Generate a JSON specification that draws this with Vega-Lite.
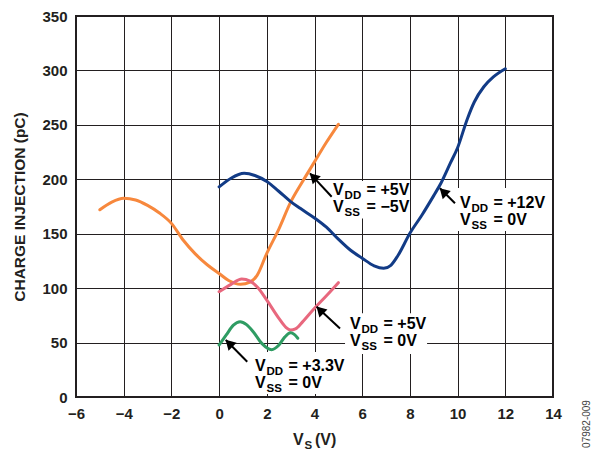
{
  "$schema": "https://vega.github.io/schema/vega-lite/v6.json",
  "width": 477,
  "height": 381,
  "autosize": "none",
  "padding": {"left": 76, "top": 16, "right": 48, "bottom": 58},
  "background": "white",
  "config": {
    "view": {"stroke": "#231f20", "strokeWidth": 2},
    "font": "Liberation Sans",
    "axis": {
      "grid": true, "gridColor": "#231f20", "gridWidth": 1, "gridOpacity": 1,
      "domain": false, "ticks": false,
      "labelFont": "Liberation Sans", "labelFontSize": 15, "labelFontWeight": "bold", "labelColor": "#231f20",
      "titleFont": "Liberation Sans", "titleFontSize": 15.5, "titleFontWeight": "bold", "titleColor": "#231f20"
    }
  },
  "datasets": {
    "curves": [
      {"series": "A", "vs": -5, "q": 172}, {"series": "A", "vs": -4.5, "q": 179}, {"series": "A", "vs": -4, "q": 182.5},
      {"series": "A", "vs": -3.5, "q": 181}, {"series": "A", "vs": -3, "q": 176}, {"series": "A", "vs": -2.5, "q": 169},
      {"series": "A", "vs": -2, "q": 159.5}, {"series": "A", "vs": -1.5, "q": 144}, {"series": "A", "vs": -1, "q": 131.5},
      {"series": "A", "vs": -0.5, "q": 121.5}, {"series": "A", "vs": 0, "q": 113.5}, {"series": "A", "vs": 0.4, "q": 107},
      {"series": "A", "vs": 0.9, "q": 103.5}, {"series": "A", "vs": 1.3, "q": 105.5}, {"series": "A", "vs": 1.6, "q": 112},
      {"series": "A", "vs": 2, "q": 132}, {"series": "A", "vs": 2.5, "q": 154}, {"series": "A", "vs": 3, "q": 179},
      {"series": "A", "vs": 3.5, "q": 198}, {"series": "A", "vs": 4, "q": 216}, {"series": "A", "vs": 4.5, "q": 234},
      {"series": "A", "vs": 5, "q": 250.5},

      {"series": "B", "vs": 0, "q": 193}, {"series": "B", "vs": 0.5, "q": 201}, {"series": "B", "vs": 1.05, "q": 205.5},
      {"series": "B", "vs": 1.5, "q": 203.5}, {"series": "B", "vs": 2, "q": 198}, {"series": "B", "vs": 2.5, "q": 189},
      {"series": "B", "vs": 3, "q": 179.5}, {"series": "B", "vs": 3.4, "q": 173.3}, {"series": "B", "vs": 4, "q": 164.5},
      {"series": "B", "vs": 4.5, "q": 156}, {"series": "B", "vs": 5, "q": 145}, {"series": "B", "vs": 5.5, "q": 135},
      {"series": "B", "vs": 6, "q": 127.5}, {"series": "B", "vs": 6.5, "q": 120.5}, {"series": "B", "vs": 6.9, "q": 118.2},
      {"series": "B", "vs": 7.2, "q": 121}, {"series": "B", "vs": 7.5, "q": 130}, {"series": "B", "vs": 8, "q": 150.4},
      {"series": "B", "vs": 8.5, "q": 167}, {"series": "B", "vs": 9, "q": 185}, {"series": "B", "vs": 9.3, "q": 196.3},
      {"series": "B", "vs": 9.7, "q": 215}, {"series": "B", "vs": 10, "q": 229}, {"series": "B", "vs": 10.4, "q": 255},
      {"series": "B", "vs": 10.7, "q": 271}, {"series": "B", "vs": 11.1, "q": 285}, {"series": "B", "vs": 11.5, "q": 294},
      {"series": "B", "vs": 12, "q": 301.5},

      {"series": "C", "vs": 0, "q": 96.7}, {"series": "C", "vs": 0.5, "q": 103.5}, {"series": "C", "vs": 0.95, "q": 108.5},
      {"series": "C", "vs": 1.3, "q": 106.5}, {"series": "C", "vs": 1.6, "q": 101}, {"series": "C", "vs": 2, "q": 89},
      {"series": "C", "vs": 2.5, "q": 72.5}, {"series": "C", "vs": 2.8, "q": 64}, {"series": "C", "vs": 3, "q": 61.5},
      {"series": "C", "vs": 3.2, "q": 62.5}, {"series": "C", "vs": 3.5, "q": 69}, {"series": "C", "vs": 4, "q": 81.5},
      {"series": "C", "vs": 4.5, "q": 93}, {"series": "C", "vs": 5, "q": 105},

      {"series": "D", "vs": 0, "q": 47.8}, {"series": "D", "vs": 0.3, "q": 57}, {"series": "D", "vs": 0.6, "q": 66},
      {"series": "D", "vs": 0.88, "q": 69.2}, {"series": "D", "vs": 1.15, "q": 66.5}, {"series": "D", "vs": 1.43, "q": 60},
      {"series": "D", "vs": 1.8, "q": 49}, {"series": "D", "vs": 2.2, "q": 43.5}, {"series": "D", "vs": 2.5, "q": 47.5},
      {"series": "D", "vs": 2.75, "q": 55}, {"series": "D", "vs": 3, "q": 59}, {"series": "D", "vs": 3.15, "q": 57.5},
      {"series": "D", "vs": 3.3, "q": 54}
    ],
    "boxes": [
      {"x1": 4.65, "x2": 8.0, "y1": 164, "y2": 198.5},
      {"x1": 9.85, "x2": 13.85, "y1": 152.5, "y2": 192},
      {"x1": 5.28, "x2": 8.72, "y1": 39.5, "y2": 77},
      {"x1": 1.3, "x2": 5.3, "y1": 2.8, "y2": 41.3}
    ],
    "arrows": [
      {"tx": 4.72, "ty": 184, "hx": 3.81, "hy": 205.4},
      {"tx": 9.89, "ty": 178, "hx": 9.26, "hy": 191.7},
      {"tx": 5.07, "ty": 63, "hx": 4.09, "hy": 83},
      {"tx": 1.18, "ty": 32.4, "hx": 0.28, "hy": 52.4}
    ],
    "labels": [
      {"x": 4.78, "y": 185.6, "main": "V", "sub": "DD", "rest": "= +5V"},
      {"x": 4.78, "y": 170.2, "main": "V", "sub": "SS", "rest": "= −5V"},
      {"x": 10.1, "y": 173.3, "main": "V", "sub": "DD", "rest": "= +12V"},
      {"x": 10.1, "y": 158, "main": "V", "sub": "SS", "rest": "= 0V"},
      {"x": 5.49, "y": 62.2, "main": "V", "sub": "DD", "rest": "= +5V"},
      {"x": 5.49, "y": 46.8, "main": "V", "sub": "SS", "rest": "= 0V"},
      {"x": 1.505, "y": 23.9, "main": "V", "sub": "DD", "rest": "= +3.3V"},
      {"x": 1.505, "y": 8.5, "main": "V", "sub": "SS", "rest": "= 0V"}
    ],
    "xtitle": [
      {"x": 3.1, "y": -44.1, "main": "V", "sub": "S", "rest": "(V)"}
    ],
    "figid": [
      {"x": 15.43, "y": -24.8, "id": "07982-009"}
    ]
  },
  "layer": [
    {
      "data": {"name": "boxes"},
      "mark": {"type": "rect", "fill": "white", "stroke": null},
      "encoding": {
        "x": {"field": "x1", "type": "quantitative", "scale": {"domain": [-6, 14], "nice": false, "zero": false},
              "axis": {"values": [-6, -4, -2, 0, 2, 4, 6, 8, 10, 12, 14], "title": null, "labelPadding": 9, "labelFlush": false}},
        "x2": {"field": "x2"},
        "y": {"field": "y1", "type": "quantitative", "scale": {"domain": [0, 350], "nice": false, "zero": false},
              "axis": {"values": [0, 50, 100, 150, 200, 250, 300, 350], "title": "CHARGE INJECTION (pC)", "labelPadding": 9, "titlePadding": 14, "labelFlush": false}},
        "y2": {"field": "y2"}
      }
    },
    {
      "data": {"name": "curves"},
      "mark": {"type": "line", "interpolate": "monotone", "strokeWidth": 3, "strokeCap": "round"},
      "encoding": {
        "x": {"field": "vs", "type": "quantitative"},
        "y": {"field": "q", "type": "quantitative"},
        "color": {"field": "series", "type": "nominal", "legend": null,
                  "scale": {"domain": ["A", "B", "C", "D"], "range": ["#F7883D", "#123B86", "#E8687E", "#2F9C63"]}}
      }
    },
    {
      "data": {"name": "arrows"},
      "mark": {"type": "rule", "strokeWidth": 2, "color": "#000000"},
      "encoding": {
        "x": {"field": "tx", "type": "quantitative"},
        "y": {"field": "ty", "type": "quantitative"},
        "x2": {"field": "hx"},
        "y2": {"field": "hy"}
      }
    },
    {
      "data": {"name": "arrows"},
      "mark": {"type": "point", "shape": "triangle-up", "filled": true, "color": "#000000", "size": 130, "angle": 315, "opacity": 1, "xOffset": 3.3, "yOffset": 3.3},
      "encoding": {
        "x": {"field": "hx", "type": "quantitative"},
        "y": {"field": "hy", "type": "quantitative"}
      }
    },
    {
      "data": {"name": "labels"},
      "mark": {"type": "text", "align": "left", "baseline": "alphabetic", "fontSize": 16, "fontWeight": "bold", "color": "#000000"},
      "encoding": {
        "x": {"field": "x", "type": "quantitative"},
        "y": {"field": "y", "type": "quantitative"},
        "text": {"field": "main"}
      }
    },
    {
      "data": {"name": "labels"},
      "mark": {"type": "text", "align": "left", "baseline": "alphabetic", "fontSize": 11.5, "fontWeight": "bold", "color": "#000000", "dx": 11.5, "dy": 4},
      "encoding": {
        "x": {"field": "x", "type": "quantitative"},
        "y": {"field": "y", "type": "quantitative"},
        "text": {"field": "sub"}
      }
    },
    {
      "data": {"name": "labels"},
      "mark": {"type": "text", "align": "left", "baseline": "alphabetic", "fontSize": 16, "fontWeight": "bold", "color": "#000000", "dx": 33.5},
      "encoding": {
        "x": {"field": "x", "type": "quantitative"},
        "y": {"field": "y", "type": "quantitative"},
        "text": {"field": "rest"}
      }
    },
    {
      "data": {"name": "xtitle"},
      "mark": {"type": "text", "align": "left", "baseline": "alphabetic", "fontSize": 16, "fontWeight": "bold", "color": "#231f20", "clip": false},
      "encoding": {
        "x": {"field": "x", "type": "quantitative"},
        "y": {"field": "y", "type": "quantitative"},
        "text": {"field": "main"}
      }
    },
    {
      "data": {"name": "xtitle"},
      "mark": {"type": "text", "align": "left", "baseline": "alphabetic", "fontSize": 11.5, "fontWeight": "bold", "color": "#231f20", "dx": 11.5, "dy": 4, "clip": false},
      "encoding": {
        "x": {"field": "x", "type": "quantitative"},
        "y": {"field": "y", "type": "quantitative"},
        "text": {"field": "sub"}
      }
    },
    {
      "data": {"name": "xtitle"},
      "mark": {"type": "text", "align": "left", "baseline": "alphabetic", "fontSize": 16, "fontWeight": "bold", "color": "#231f20", "dx": 22, "clip": false},
      "encoding": {
        "x": {"field": "x", "type": "quantitative"},
        "y": {"field": "y", "type": "quantitative"},
        "text": {"field": "rest"}
      }
    },
    {
      "data": {"name": "figid"},
      "mark": {"type": "text", "align": "center", "baseline": "middle", "fontSize": 10, "angle": 270, "color": "#444444", "clip": false},
      "encoding": {
        "x": {"field": "x", "type": "quantitative"},
        "y": {"field": "y", "type": "quantitative"},
        "text": {"field": "id"}
      }
    }
  ]
}
